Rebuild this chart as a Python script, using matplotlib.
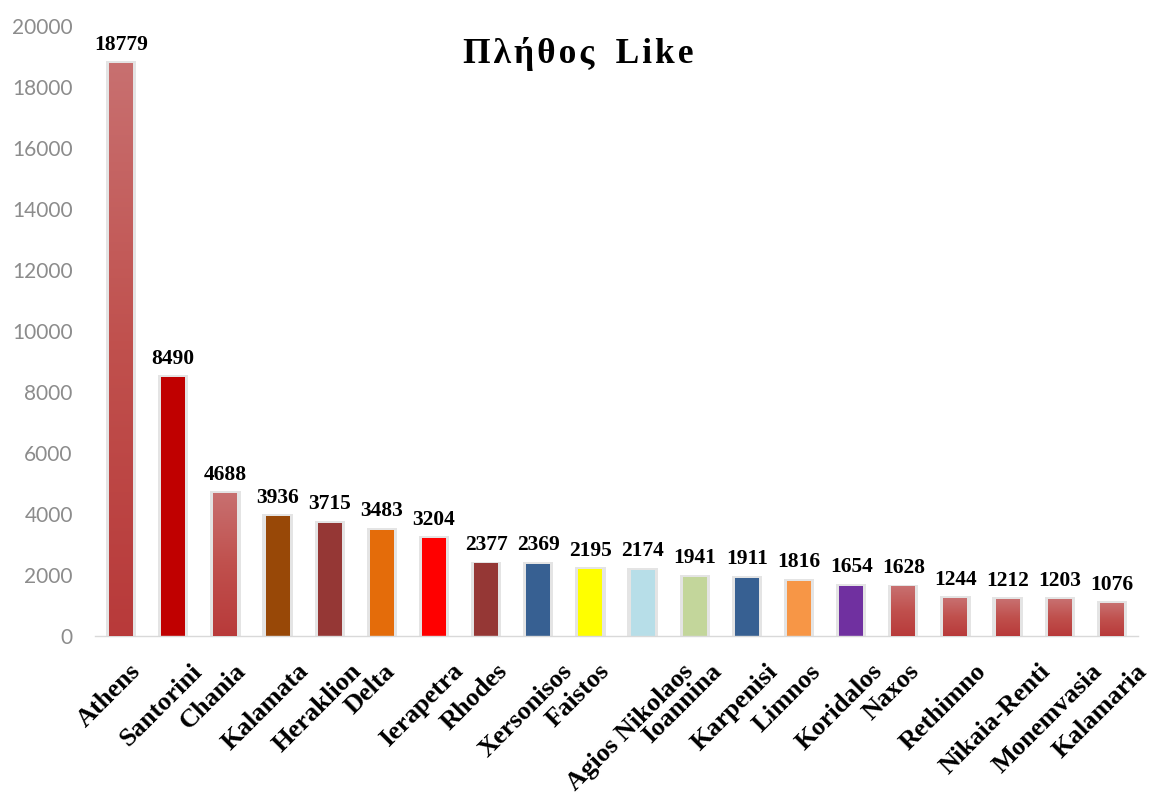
import numpy as np
import matplotlib
matplotlib.use('Agg')
import matplotlib.pyplot as plt
import matplotlib.transforms as mtransforms
from matplotlib.colors import LinearSegmentedColormap

# Likes per city
cities = ['Athens', 'Santorini', 'Chania', 'Kalamata', 'Heraklion', 'Delta',
          'Ierapetra', 'Rhodes', 'Xersonisos', 'Faistos', 'Agios Nikolaos',
          'Ioannina', 'Karpenisi', 'Limnos', 'Koridalos', 'Naxos', 'Rethimno',
          'Nikaia-Renti', 'Monemvasia', 'Kalamaria']
likes = [18779, 8490, 4688, 3936, 3715, 3483, 3204, 2377, 2369, 2195, 2174,
         1941, 1911, 1816, 1654, 1628, 1244, 1212, 1203, 1076]

# Bar fills; None means the red gradient fill
colors = [None, '#c00000', None, '#984807', '#953735', '#e46c0a', '#ff0000',
          '#953735', '#376092', '#ffff00', '#b7dee8', '#c3d69b', '#376092',
          '#f79646', '#7030a0', None, None, None, None, None]

red_grad = LinearSegmentedColormap.from_list('redgrad', ['#c87070', '#c0504d', '#b83a3a'])

fig = plt.figure(figsize=(11.49, 8.07), dpi=100)
ax = fig.add_axes([0.0827, 0.2119, 0.9077, 0.7559])

x = np.arange(len(cities))
width = 0.46

# soft shadow behind each bar
ax.bar(x, np.array(likes) + 60, width=width + 0.12, color='#c4c4c4',
       alpha=0.45, zorder=1)

bars = ax.bar(x, likes, width=width, color=[c if c else '#c0504d' for c in colors],
              zorder=2)

grad = np.linspace(0, 1, 256).reshape(-1, 1)
for bar, c in zip(bars, colors):
    if c is None:
        x0 = bar.get_x()
        img = ax.imshow(grad, extent=[x0, x0 + bar.get_width(), 0, bar.get_height()],
                        cmap=red_grad, aspect='auto', origin='upper', zorder=3)
        img.set_clip_path(bar)

# value labels above bars
for bar, v in zip(bars, likes):
    ax.annotate(str(v), (bar.get_x() + bar.get_width() / 2, v),
                xytext=(0, 6), textcoords='offset points', ha='center', va='bottom',
                fontsize=15.5, fontweight='bold', family='Liberation Serif', zorder=4)

ax.set_xlim(-0.5, len(cities) - 0.5)
ax.set_ylim(0, 20000)
ax.set_yticks(np.arange(0, 20001, 2000))
ax.tick_params(axis='y', length=0, pad=16, labelsize=15, labelcolor='#8c8c8c')
for lbl in ax.get_yticklabels():
    lbl.set_family('Lato')

ax.set_xticks(x)
ax.set_xticklabels(cities, rotation=45, ha='center', fontsize=19,
                   fontweight='bold', family='Liberation Serif')
ax.tick_params(axis='x', length=0, pad=17)
shift = mtransforms.ScaledTranslation(-12 / 100, 0, fig.dpi_scale_trans)
for lbl in ax.get_xticklabels():
    lbl.set_transform(lbl.get_transform() + shift)

for side in ['top', 'right', 'left']:
    ax.spines[side].set_visible(False)
ax.spines['bottom'].set_color('#d9d9d9')
ax.spines['bottom'].set_linewidth(1)

title = '\u200a'.join('Πλήθος') + '\u2009\u2009\u2009' + '\u200a'.join('Like')
fig.text(0.503, 0.933, title, ha='center', va='center', fontsize=25.5,
         fontweight='bold', family=['Liberation Serif', 'DejaVu Serif'])

fig.savefig('out.png', dpi=100)
